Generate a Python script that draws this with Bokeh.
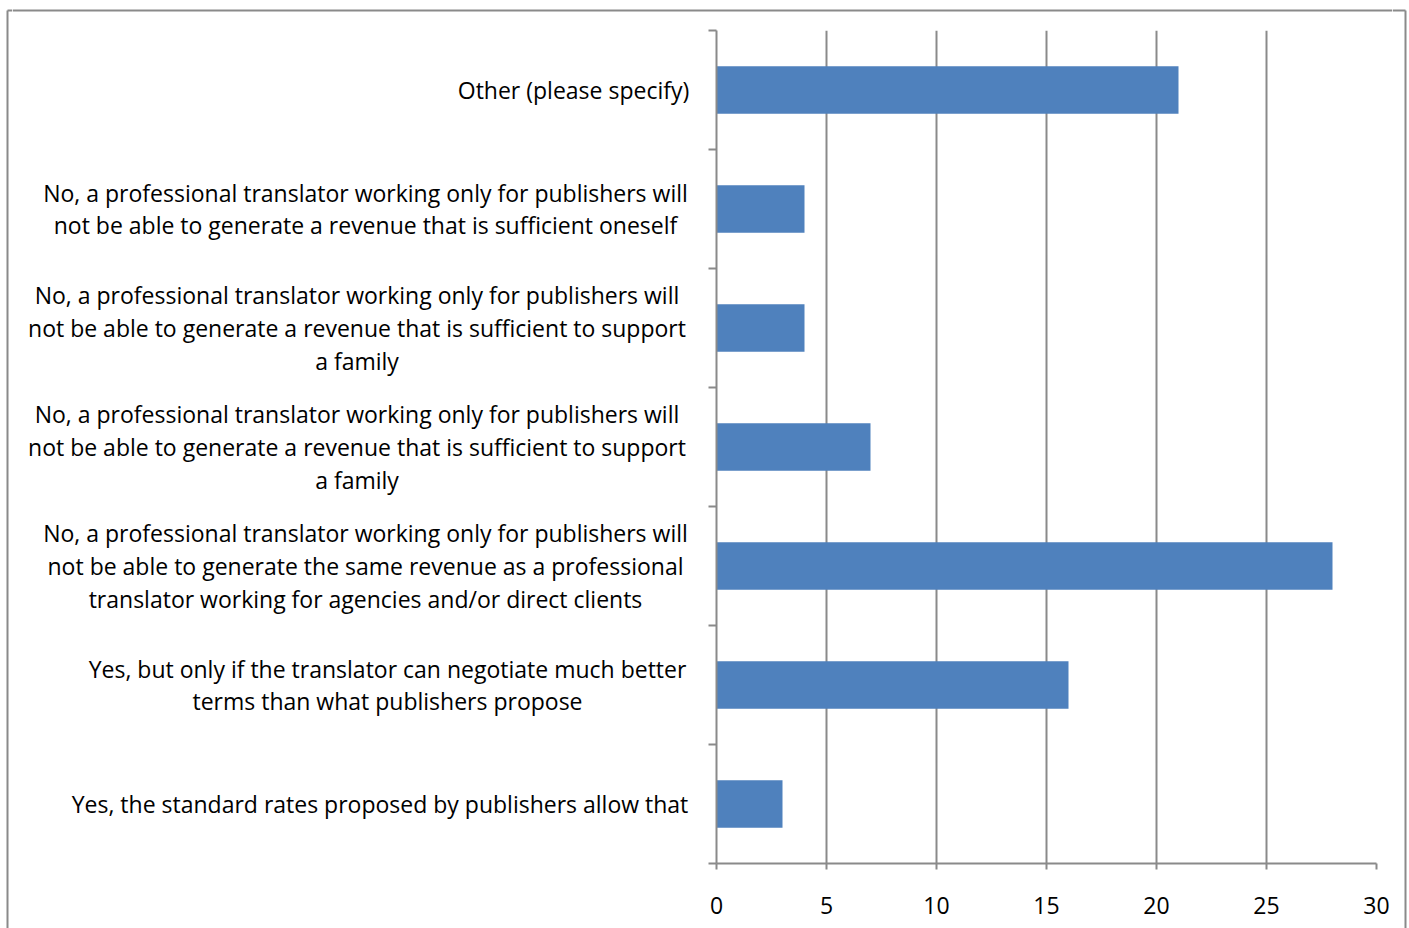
from bokeh.plotting import figure
from bokeh.layouts import row, column
from bokeh.models import Range1d, FixedTicker
from bokeh.embed import file_html
from bokeh.resources import INLINE

# ---- data (bottom to top) ----
categories = [
    "Yes, the standard rates proposed by publishers allow that",
    "Yes, but only if the translator can negotiate much better\nterms than what publishers propose",
    "No, a professional translator working only for publishers will\nnot be able to generate the same revenue as a professional\ntranslator working for agencies and/or direct clients",
    "No, a professional translator working only for publishers will\nnot be able to generate a revenue that is sufficient to support\na family",
    "No, a professional translator working only for publishers will\nnot be able to generate a revenue that is sufficient to support\na family",
    "No, a professional translator working only for publishers will\nnot be able to generate a revenue that is sufficient oneself",
    "Other (please specify)",
]
values = [3, 16, 28, 7, 4, 4, 21]
x_ticks = [0, 5, 10, 15, 20, 25, 30]

# ---- layout (page pixels) ----
W, H = 1409, 928
LS_W = 12                       # left strip (left border line)
CHART_R = 1392                  # right edge of chart figure
RS_W = W - CHART_R              # right strip (right border line)
TOP_H = 12                      # top strip (top border line)
LABEL_R = 700                   # right edge of label column
FRAME_L, FRAME_R = 716, 1376    # plot frame (page x)
FRAME_T, FRAME_B = 30, 863      # plot frame (page y)
BORDER_L, BORDER_T, BORDER_R = 7, 10, 1405
# centre of each label block (page x), bottom to top
label_centers = [379.5, 387, 365, 356.5, 356.5, 365, 573]

GRAY = "#8a8a8a"
FONT = "Open Sans"
FONT_SIZE = "23px"
N = len(categories)


def bare(fig):
    fig.outline_line_color = None
    fig.xaxis.visible = False
    fig.yaxis.visible = False
    fig.xgrid.visible = False
    fig.ygrid.visible = False
    fig.background_fill_color = "white"
    fig.border_fill_color = "white"
    return fig


def strip(w, h):
    # pixel coordinates: x from the strip's left, y from the page top
    return bare(figure(width=w, height=h, output_backend="svg", toolbar_location=None,
                       x_range=Range1d(0, w), y_range=Range1d(H, H - h), min_border=0))


# ---- left strip: left border ----
ls = strip(LS_W, H)
ls.segment(x0=[BORDER_L, BORDER_L], y0=[BORDER_T, BORDER_T],
           x1=[BORDER_L, LS_W], y1=[H, BORDER_T], line_color=GRAY, line_width=2)

# ---- right strip: right border ----
rs = strip(RS_W, H)
rs.segment(x0=[BORDER_R - CHART_R, 0], y0=[BORDER_T, BORDER_T],
           x1=[BORDER_R - CHART_R, BORDER_R - CHART_R], y1=[H, BORDER_T],
           line_color=GRAY, line_width=2)

# ---- top strip: top border ----
ts_w = CHART_R - LS_W
ts = bare(figure(width=ts_w, height=TOP_H, output_backend="svg", toolbar_location=None,
                 x_range=Range1d(0, ts_w), y_range=Range1d(TOP_H, 0), min_border=0))
ts.segment(x0=[0], y0=[BORDER_T], x1=[ts_w], y1=[BORDER_T], line_color=GRAY, line_width=2)

ys = [i + 0.5 for i in range(N)]
BODY_H = H - TOP_H

# ---- label column (frame aligned with the chart frame) ----
lab_w = LABEL_R - LS_W
lab = bare(figure(width=lab_w, height=BODY_H, output_backend="svg", toolbar_location=None,
                  x_range=Range1d(LS_W, LABEL_R), y_range=Range1d(0, N),
                  min_border_left=0, min_border_right=0,
                  min_border_top=FRAME_T - TOP_H, min_border_bottom=H - FRAME_B))
lab.text(x=label_centers, y=ys, text=categories, text_align="center",
         text_baseline="middle", text_font={"value": FONT}, text_font_size=FONT_SIZE,
         text_color="black", text_line_height=1.025)

# ---- chart ----
p = figure(width=CHART_R - LABEL_R, height=BODY_H, output_backend="svg",
           toolbar_location=None, x_range=Range1d(0, 30), y_range=Range1d(0, N),
           min_border_left=FRAME_L - LABEL_R, min_border_right=CHART_R - FRAME_R,
           min_border_top=FRAME_T - TOP_H, min_border_bottom=H - FRAME_B)
p.outline_line_color = None
p.background_fill_color = "white"
p.border_fill_color = "white"

p.hbar(y=ys, right=values, left=0, height=0.4, fill_color="#4F81BD", line_color=None)

xa = p.xaxis[0]
xa.ticker = FixedTicker(ticks=x_ticks)
xa.axis_line_color = GRAY
xa.axis_line_width = 2
xa.major_tick_line_color = GRAY
xa.major_tick_line_width = 2
xa.major_tick_out = 6
xa.major_tick_in = 0
xa.minor_tick_line_color = None
xa.major_label_text_font = FONT
xa.major_label_text_font_size = FONT_SIZE
xa.major_label_text_color = "black"
xa.major_label_standoff = 27

ya = p.yaxis[0]
ya.ticker = FixedTicker(ticks=list(range(N + 1)))
ya.axis_line_color = GRAY
ya.axis_line_width = 2
ya.major_tick_line_color = GRAY
ya.major_tick_line_width = 2
ya.major_tick_out = 8
ya.major_tick_in = 0
ya.minor_tick_line_color = None
ya.major_label_text_font_size = "0px"
ya.major_label_text_alpha = 0

p.xgrid.ticker = FixedTicker(ticks=x_ticks)
p.xgrid.grid_line_color = GRAY
p.xgrid.grid_line_width = 2
p.ygrid.grid_line_color = None

middle = column(ts, row(lab, p, spacing=0), spacing=0)
layout = row(ls, middle, rs, spacing=0)
open("out.html", "w").write(file_html(layout, INLINE))
